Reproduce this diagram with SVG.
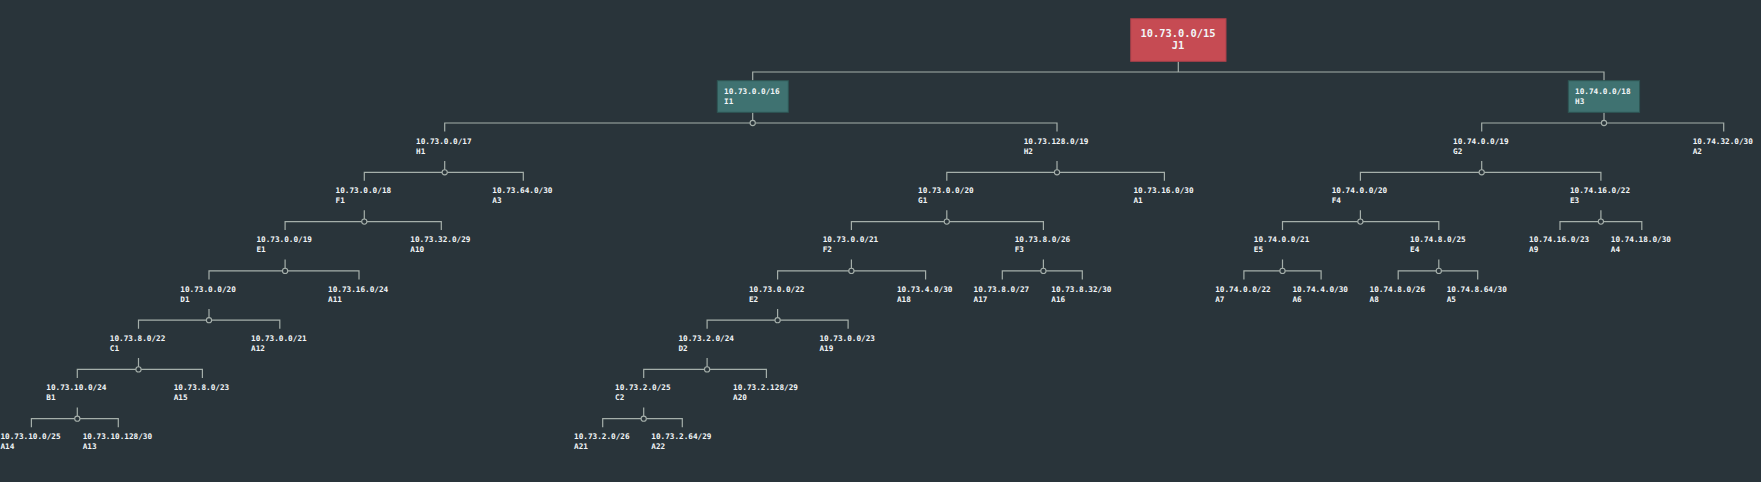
<svg xmlns="http://www.w3.org/2000/svg" width="1761" height="482" viewBox="0 0 1761 482">
<style>
text{font-family:"DejaVu Sans Mono","Liberation Mono",monospace;fill:#f2f6f8;font-weight:bold}
.l{font-size:7.7px}
.r{font-size:10.4px;text-anchor:middle}
.c path{fill:none;stroke:#a5afaa;stroke-width:1.2}
.c circle{fill:#29343a;stroke:#a5afaa;stroke-width:1.1}
.root{fill:#c64b53;stroke:#a9404a;stroke-width:1}
.box{fill:#3f7271;stroke:#2e5654;stroke-width:1}
</style>
<rect width="1761" height="482" fill="#29343a"/>
<g id="connectors" class="c">
<path d="M1178.3 61.3V72M752.7 80.7V72H1604V80.7"/>
<path d="M752.7 112.3V123M444.7 131.5V123H1057V131.5"/>
<path d="M1604 112.3V123M1481.7 131.5V123H1723.7V131.5"/>
<path d="M444.7 161V172.3M364.3 180.8V172.3H523.3V180.8"/>
<path d="M1057 161V172.3M946.8 180.8V172.3H1164.4V180.8"/>
<path d="M1481.7 161V172.3M1360.4 180.8V172.3H1600.9V180.8"/>
<path d="M364.3 210.3V221.6M285.1 230.1V221.6H441.3V230.1"/>
<path d="M946.8 210.3V221.6M851.4 230.1V221.6H1043.4V230.1"/>
<path d="M1360.4 210.3V221.6M1282.5 230.1V221.6H1438.8V230.1"/>
<path d="M1600.9 210.3V221.6M1560 230.1V221.6H1641.8V230.1"/>
<path d="M285.1 259.6V270.9M209 279.4V270.9H359V279.4"/>
<path d="M851.4 259.6V270.9M777.6 279.4V270.9H925.6V279.4"/>
<path d="M1043.4 259.6V270.9M1002.3 279.4V270.9H1082.3V279.4"/>
<path d="M1282.5 259.6V270.9M1243.9 279.4V270.9H1321.1V279.4"/>
<path d="M1438.8 259.6V270.9M1398.2 279.4V270.9H1477.7V279.4"/>
<path d="M209 308.9V320.2M138.5 328.7V320.2H279.8V328.7"/>
<path d="M777.6 308.9V320.2M707.1 328.7V320.2H848.1V328.7"/>
<path d="M138.5 358.1V369.4M77.3 377.9V369.4H202.4V377.9"/>
<path d="M707.1 358.1V369.4M643.7 377.9V369.4H766.4V377.9"/>
<path d="M77.3 407.4V418.7M31.4 427.2V418.7H118.3V427.2"/>
<path d="M643.7 407.4V418.7M602.7 427.2V418.7H682.3V427.2"/>
<circle cx="752.7" cy="123" r="2.6"/>
<circle cx="1604" cy="123" r="2.6"/>
<circle cx="444.7" cy="172.3" r="2.6"/>
<circle cx="1057" cy="172.3" r="2.6"/>
<circle cx="1481.7" cy="172.3" r="2.6"/>
<circle cx="364.3" cy="221.6" r="2.6"/>
<circle cx="946.8" cy="221.6" r="2.6"/>
<circle cx="1360.4" cy="221.6" r="2.6"/>
<circle cx="1600.9" cy="221.6" r="2.6"/>
<circle cx="285.1" cy="270.9" r="2.6"/>
<circle cx="851.4" cy="270.9" r="2.6"/>
<circle cx="1043.4" cy="270.9" r="2.6"/>
<circle cx="1282.5" cy="270.9" r="2.6"/>
<circle cx="1438.8" cy="270.9" r="2.6"/>
<circle cx="209" cy="320.2" r="2.6"/>
<circle cx="777.6" cy="320.2" r="2.6"/>
<circle cx="138.5" cy="369.4" r="2.6"/>
<circle cx="707.1" cy="369.4" r="2.6"/>
<circle cx="77.3" cy="418.7" r="2.6"/>
<circle cx="643.7" cy="418.7" r="2.6"/>
</g>
<g id="J1"><rect class="root" x="1130.7" y="18.7" width="95.3" height="42.6"/><text class="r" x="1178" y="37">10.73.0.0/15</text><text class="r" x="1178" y="49.3">J1</text></g>
<g id="I1"><rect class="box" x="717.3" y="80.7" width="71" height="31.6"/><text class="l" x="724" y="94">10.73.0.0/16</text><text class="l" x="724" y="104">I1</text></g>
<g id="H3"><rect class="box" x="1568.3" y="80.7" width="71.3" height="31.6"/><text class="l" x="1575" y="94">10.74.0.0/18</text><text class="l" x="1575" y="104">H3</text></g>
<g id="H1"><text class="l" x="416" y="144">10.73.0.0/17</text><text class="l" x="416" y="154">H1</text></g>
<g id="H2"><text class="l" x="1023.7" y="144">10.73.128.0/19</text><text class="l" x="1023.7" y="154">H2</text></g>
<g id="G2"><text class="l" x="1453" y="144">10.74.0.0/19</text><text class="l" x="1453" y="154">G2</text></g>
<g id="A2"><text class="l" x="1692.7" y="144">10.74.32.0/30</text><text class="l" x="1692.7" y="154">A2</text></g>
<g id="F1"><text class="l" x="335.6" y="193.2">10.73.0.0/18</text><text class="l" x="335.6" y="203.2">F1</text></g>
<g id="A3"><text class="l" x="492.3" y="193.2">10.73.64.0/30</text><text class="l" x="492.3" y="203.2">A3</text></g>
<g id="G1"><text class="l" x="918.1" y="193.2">10.73.0.0/20</text><text class="l" x="918.1" y="203.2">G1</text></g>
<g id="A1"><text class="l" x="1133.4" y="193.2">10.73.16.0/30</text><text class="l" x="1133.4" y="203.2">A1</text></g>
<g id="F4"><text class="l" x="1331.7" y="193.2">10.74.0.0/20</text><text class="l" x="1331.7" y="203.2">F4</text></g>
<g id="E3"><text class="l" x="1569.9" y="193.2">10.74.16.0/22</text><text class="l" x="1569.9" y="203.2">E3</text></g>
<g id="E1"><text class="l" x="256.4" y="242.4">10.73.0.0/19</text><text class="l" x="256.4" y="252.4">E1</text></g>
<g id="A10"><text class="l" x="410.3" y="242.4">10.73.32.0/29</text><text class="l" x="410.3" y="252.4">A10</text></g>
<g id="F2"><text class="l" x="822.7" y="242.4">10.73.0.0/21</text><text class="l" x="822.7" y="252.4">F2</text></g>
<g id="F3"><text class="l" x="1014.7" y="242.4">10.73.8.0/26</text><text class="l" x="1014.7" y="252.4">F3</text></g>
<g id="E5"><text class="l" x="1253.8" y="242.4">10.74.0.0/21</text><text class="l" x="1253.8" y="252.4">E5</text></g>
<g id="E4"><text class="l" x="1410.1" y="242.4">10.74.8.0/25</text><text class="l" x="1410.1" y="252.4">E4</text></g>
<g id="A9"><text class="l" x="1529" y="242.4">10.74.16.0/23</text><text class="l" x="1529" y="252.4">A9</text></g>
<g id="A4"><text class="l" x="1610.8" y="242.4">10.74.18.0/30</text><text class="l" x="1610.8" y="252.4">A4</text></g>
<g id="D1"><text class="l" x="180.3" y="291.6">10.73.0.0/20</text><text class="l" x="180.3" y="301.6">D1</text></g>
<g id="A11"><text class="l" x="328" y="291.6">10.73.16.0/24</text><text class="l" x="328" y="301.6">A11</text></g>
<g id="E2"><text class="l" x="748.9" y="291.6">10.73.0.0/22</text><text class="l" x="748.9" y="301.6">E2</text></g>
<g id="A18"><text class="l" x="896.9" y="291.6">10.73.4.0/30</text><text class="l" x="896.9" y="301.6">A18</text></g>
<g id="A17"><text class="l" x="973.6" y="291.6">10.73.8.0/27</text><text class="l" x="973.6" y="301.6">A17</text></g>
<g id="A16"><text class="l" x="1051.3" y="291.6">10.73.8.32/30</text><text class="l" x="1051.3" y="301.6">A16</text></g>
<g id="A7"><text class="l" x="1215.2" y="291.6">10.74.0.0/22</text><text class="l" x="1215.2" y="301.6">A7</text></g>
<g id="A6"><text class="l" x="1292.4" y="291.6">10.74.4.0/30</text><text class="l" x="1292.4" y="301.6">A6</text></g>
<g id="A8"><text class="l" x="1369.5" y="291.6">10.74.8.0/26</text><text class="l" x="1369.5" y="301.6">A8</text></g>
<g id="A5"><text class="l" x="1446.7" y="291.6">10.74.8.64/30</text><text class="l" x="1446.7" y="301.6">A5</text></g>
<g id="C1"><text class="l" x="109.8" y="340.8">10.73.8.0/22</text><text class="l" x="109.8" y="350.8">C1</text></g>
<g id="A12"><text class="l" x="251.1" y="340.8">10.73.0.0/21</text><text class="l" x="251.1" y="350.8">A12</text></g>
<g id="D2"><text class="l" x="678.4" y="340.8">10.73.2.0/24</text><text class="l" x="678.4" y="350.8">D2</text></g>
<g id="A19"><text class="l" x="819.4" y="340.8">10.73.0.0/23</text><text class="l" x="819.4" y="350.8">A19</text></g>
<g id="B1"><text class="l" x="46.3" y="390">10.73.10.0/24</text><text class="l" x="46.3" y="400">B1</text></g>
<g id="A15"><text class="l" x="173.7" y="390">10.73.8.0/23</text><text class="l" x="173.7" y="400">A15</text></g>
<g id="C2"><text class="l" x="615" y="390">10.73.2.0/25</text><text class="l" x="615" y="400">C2</text></g>
<g id="A20"><text class="l" x="733.1" y="390">10.73.2.128/29</text><text class="l" x="733.1" y="400">A20</text></g>
<g id="A14"><text class="l" x="0.4" y="439.2">10.73.10.0/25</text><text class="l" x="0.4" y="449.2">A14</text></g>
<g id="A13"><text class="l" x="82.7" y="439.2">10.73.10.128/30</text><text class="l" x="82.7" y="449.2">A13</text></g>
<g id="A21"><text class="l" x="574" y="439.2">10.73.2.0/26</text><text class="l" x="574" y="449.2">A21</text></g>
<g id="A22"><text class="l" x="651.3" y="439.2">10.73.2.64/29</text><text class="l" x="651.3" y="449.2">A22</text></g>
</svg>
